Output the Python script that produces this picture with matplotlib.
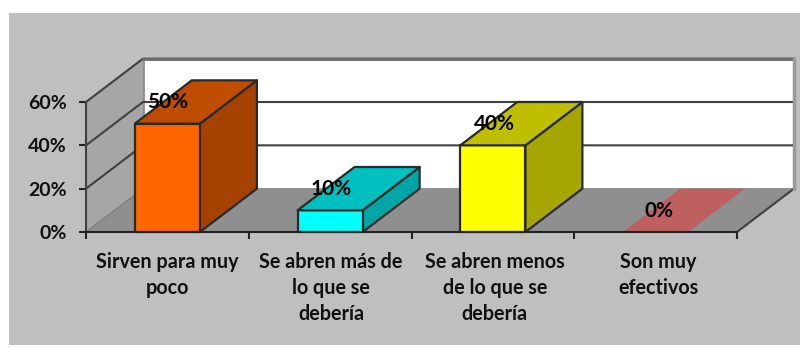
import matplotlib
matplotlib.use('Agg')
import matplotlib.pyplot as plt
from matplotlib.patches import Polygon, Rectangle

categories = ['Sirven para muy\npoco', 'Se abren más de\nlo que se\ndebería',
              'Se abren menos\nde lo que se\ndebería', 'Son muy\nefectivos']
values = [50, 10, 40, 0]
value_labels = ['50%', '10%', '40%', '0%']
yticks = [0, 20, 40, 60]
front_colors = ['#FF6600', '#00FFFF', '#FFFF00', '#FF8080']
top_colors = ['#BF4D00', '#00BFBF', '#BFBF00', '#BF6060']
side_colors = ['#A64200', '#00A6A6', '#A6A600', '#A65353']

plt.rcParams['font.family'] = ['Lato', 'DejaVu Sans']

W, H = 807, 347
fig = plt.figure(figsize=(W / 100, H / 100), dpi=100, facecolor='white')

# grey chart area behind everything
fig.patches.append(Rectangle((9 / W, 2 / H), 791 / W, 332 / H, transform=fig.transFigure,
                             facecolor='#BFBFBF', edgecolor='none', zorder=-5))

ax = fig.add_axes([86 / W, (H - 232) / H, 651 / W, 130 / H])
ax.set_xlim(0, 4)
ax.set_ylim(0, 60)
ax.patch.set_visible(False)
for s in ax.spines.values():
    s.set_visible(False)

# depth of the fake 3d box, in data units
dx = 0.35
dy = 20
line = '#404040'


def poly(pts, fc, ec='#2A2A2A', lw=1.6, z=2):
    ax.add_patch(Polygon(pts, closed=True, facecolor=fc, edgecolor=ec, linewidth=lw,
                         zorder=z, clip_on=False, joinstyle='round'))


# walls and floor
top = yticks[-1]
poly([(dx, dy), (4 + dx, dy), (4 + dx, top + dy), (dx, top + dy)], 'white', ec='#8C8C8C', lw=2, z=1)
poly([(0, 0), (dx, dy), (dx, top + dy), (0, top)], '#A6A6A6', ec='none', z=1)
poly([(0, 0), (4, 0), (4 + dx, dy), (dx, dy)], '#8F8F8F', ec='none', z=1)

# gridlines along side and back wall
for t in yticks[1:]:
    ax.plot([0, dx, 4 + dx], [t, t + dy, t + dy], color=line, lw=1.5, zorder=1.5, clip_on=False)
ax.plot([0, dx], [0, dy], color='#808080', lw=1, zorder=1.5, clip_on=False)
ax.plot([dx, 4 + dx], [top + dy, top + dy], color='#6E6E6E', lw=2, zorder=1.5, clip_on=False)
ax.plot([4, 4 + dx], [0, dy], color=line, lw=1.5, zorder=1.5, clip_on=False)
ax.plot([4 + dx, 4 + dx], [dy, top + dy], color='#9A9A9A', lw=2.5, zorder=1.5, clip_on=False)
ax.plot([0, 0], [0, top], color=line, lw=1.5, zorder=5, clip_on=False)
ax.plot([0, 4], [0, 0], color='#222222', lw=1.5, zorder=5, clip_on=False)

# bars
bw = 0.4
for i, v in enumerate(values):
    l = i + 0.5 - bw / 2
    r = i + 0.5 + bw / 2
    if v > 0:
        poly([(r, 0), (r + dx, dy), (r + dx, v + dy), (r, v)], side_colors[i], z=3)
        poly([(l, 0), (r, 0), (r, v), (l, v)], front_colors[i], z=3)
    poly([(l, v), (r, v), (r + dx, v + dy), (l + dx, v + dy)],
         top_colors[i], ec=('#2A2A2A' if v > 0 else 'none'), z=3)
    ax.text(i * 1.006 + 0.5, v + 9.8, value_labels[i], ha='center', va='center',
            fontsize=15, fontweight='bold', color='black', zorder=6)

ax.set_xticks(range(5))
ax.set_xticklabels([])
ax.set_yticks(yticks)
ax.set_yticklabels([f'{t}%' for t in yticks], fontsize=14, fontweight='bold', color='#111111')
ax.tick_params(axis='both', length=5, width=1.5, color='#222222')
ax.tick_params(axis='y', pad=9)

for i, c in enumerate(categories):
    ax.text(i * 1.006 + 0.5, -9.0, c, ha='center', va='top', fontsize=14.2, fontweight='bold',
            color='#111111', linespacing=1.38, clip_on=False)

fig.savefig('out.png', dpi=100)
